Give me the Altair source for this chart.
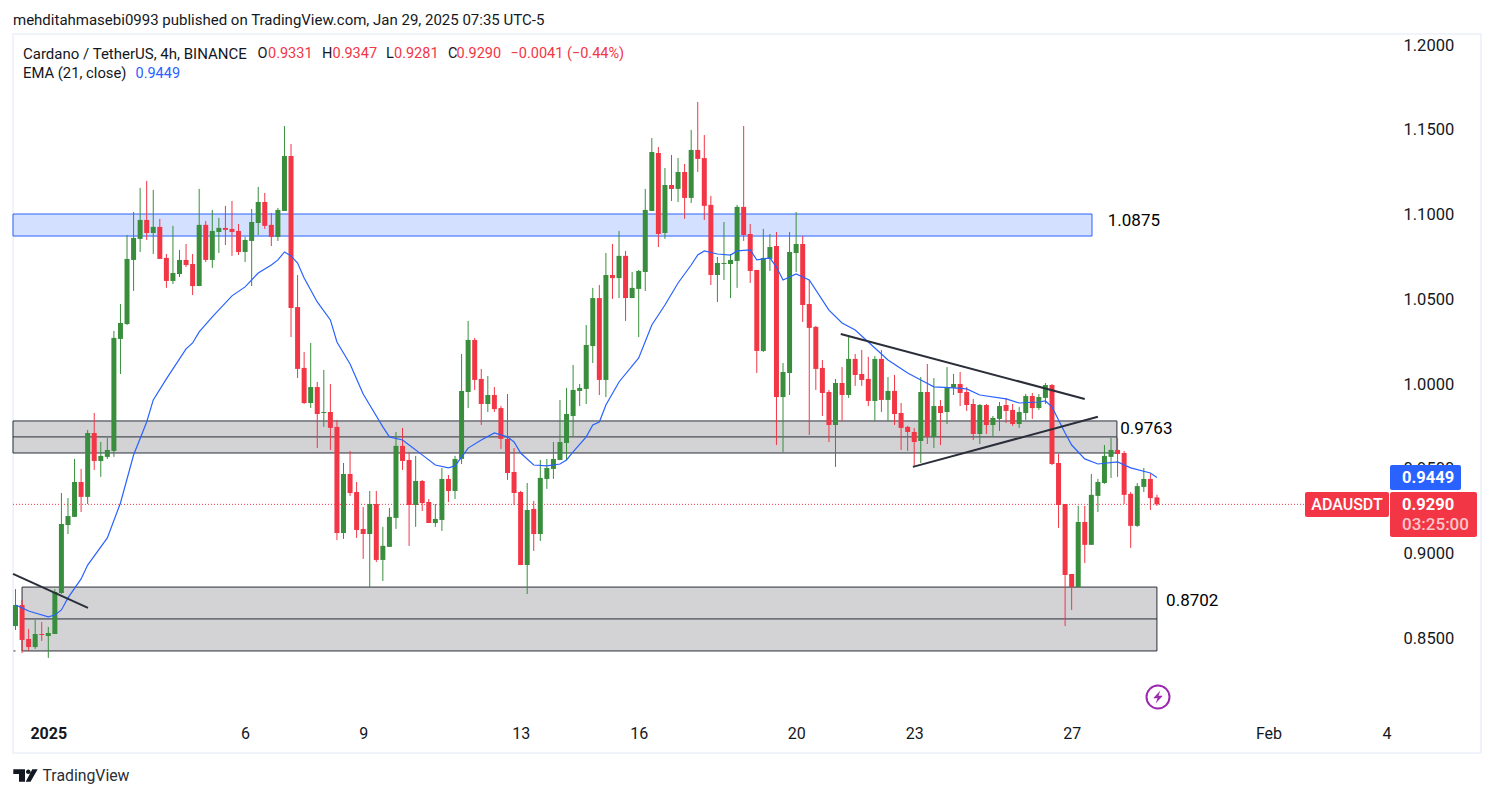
import altair as alt
import pandas as pd

open_ = [.8572,.8696,.8496,.8448,.8525,.8513,.8525,.8767,.9168,.9216,.9422,.9334,.9711,.9546,.9570,.9605,
1.0266,1.0354,1.0732,1.0856,1.0968,1.0891,1.0927,1.0744,1.0608,1.0649,1.0732,1.0708,1.0578,1.0939,1.0732,1.0897,
1.0921,1.0915,1.0903,1.0779,1.0844,1.0950,1.1074,1.0939,1.0868,1.1021,1.1345,1.0454,1.0095,.9888,.9982,.9829,
.9835,.9747,.9121,.9469,.9363,.9145,.9115,.9292,.8962,.9039,.9210,.9635,.9552,.9286,.9428,.9304,.9180,.9198,
.9440,.9369,.9558,.9953,1.0260,1.0030,.9882,.9935,.9858,.9676,.9481,.9363,.8932,.9263,.9115,.9440,.9499,.9552,
.9652,.9811,.9959,.9971,1.0224,1.0507,1.0024,1.0643,1.0625,1.0756,1.0507,1.0561,1.0661,1.1021,1.1363,1.0891,
1.1174,1.1151,1.1251,1.1098,1.1381,1.1333,1.1057,1.0643,1.0708,1.0708,1.0726,1.1045,1.0885,1.0673,1.0195,1.0738,
1.0814,.9923,1.0065,1.0773,1.0826,1.0472,1.0337,1.0095,.9953,.9758,1.0006,.9935,1.0148,1.0059,1.0030,.9900,
1.0148,.9906,.9959,.9829,.9747,.9717,.9664,.9953,.9688,.9870,.9835,.9977,1.0000,.9953,.9882,.9705,.9876,.9758,
.9794,.9876,.9847,.9764,.9829,.9929,.9858,.9918,.9994,.9534,.9292,.8879,.8802,.9186,.9051,.9340,.9416,.9570,
.9611,.9593,.9352,.9163,.9393,.9440,.9331]
high = [.8790,.8726,.8555,.8608,.8596,.8567,.8790,.9357,.9327,.9558,.9499,.9729,.9829,.9658,.9682,1.0313,
1.0472,1.0879,1.1015,1.1157,1.1198,1.1145,1.0974,1.0767,1.0933,1.0791,1.0826,1.0767,1.1151,1.0962,1.1027,1.0980,
1.1051,1.1080,1.0944,1.0868,1.1033,1.1163,1.1127,1.1009,1.1039,1.1522,1.1416,1.0643,1.0189,1.0242,1.0012,1.0083,
1.0000,.9788,.9534,.9605,.9422,.9275,.9369,.9369,.9157,.9269,.9717,.9741,.9599,.9576,.9434,.9322,.9292,.9505,
.9463,.9576,1.0177,1.0372,1.0272,1.0089,1.0047,.9982,.9870,.9941,.9622,.9369,.9416,.9310,.9552,.9558,.9658,.9906,
.9977,1.0112,1.0000,1.0348,1.0567,1.0584,1.0773,1.0826,1.0903,1.0785,1.0661,1.0673,1.1151,1.1451,1.1398,1.1274,
1.1351,1.1333,1.1298,1.1499,1.1664,1.1469,1.1110,1.0750,1.0956,1.0767,1.1057,1.1522,1.0944,1.0673,1.0915,1.0885,
1.0897,1.0124,1.0897,1.1015,1.0874,1.0614,1.0343,1.0142,.9965,1.0030,1.0100,1.0289,1.0177,1.0201,1.0160,1.0165,
1.0201,1.0041,1.0053,.9888,.9753,.9741,1.0041,1.0118,1.0035,.9906,1.0100,1.0059,1.0071,.9982,.9912,.9882,.9882,.9811,
.9894,.9918,.9882,.9864,.9941,.9947,.9941,1.0006,1.0000,.9587,.9292,.8879,.9281,.9281,.9469,.9440,.9640,.9682,
.9682,.9605,.9363,.9416,.9505,.9469,.9347]
low = [.8549,.8413,.8425,.8437,.8484,.8384,.8525,.8761,.9115,.9216,.9245,.9292,.9493,.9452,.9558,.9570,
1.0059,1.0348,1.0549,1.0779,1.0850,1.0767,1.0738,1.0567,1.0590,1.0631,1.0690,1.0525,1.0578,1.0720,1.0685,1.0773,
1.0820,1.0756,1.0761,1.0720,1.0578,1.0879,1.0915,1.0814,1.0844,1.1021,1.0277,1.0035,.9882,.9858,.9622,.9747,
.9611,.9080,.9086,.9340,.9092,.8968,.8802,.8950,.8838,.9039,.9145,.9493,.9045,.9157,.9251,.9180,.9157,.9133,
.9304,.9322,.9528,.9858,.9965,.9758,.9835,.9835,.9617,.9434,.9286,.8932,.8761,.9015,.9074,.9381,.9440,.9552,
.9552,.9693,.9870,.9882,1.0124,.9935,.9923,1.0502,1.0507,1.0372,1.0507,1.0277,1.0549,1.1021,1.0808,1.0856,
1.1080,1.1074,1.0974,1.1068,1.1251,1.0968,1.0584,1.0484,1.0614,1.0507,1.0567,1.0844,1.0596,1.0065,1.0189,1.0667,
.9640,.9599,.9935,1.0661,1.0366,.9699,.9965,.9811,.9658,.9511,.9782,.9918,.9989,.9989,.9870,.9782,
.9835,.9782,.9758,.9611,.9605,.9517,.9534,.9646,.9622,.9640,.9764,.9935,.9870,.9841,.9670,.9646,.9705,.9688,
.9723,.9770,.9753,.9741,.9788,.9794,.9847,.9882,.9522,.9151,.8572,.8667,.8802,.8944,.9051,.9245,.9411,.9446,
.9452,.9292,.9033,.9157,.9363,.9257,.9281]
close = [.8696,.8490,.8448,.8525,.8519,.8531,.8773,.9174,.9221,.9422,.9334,.9711,.9546,.9576,.9611,1.0272,
1.0360,1.0738,1.0862,1.0968,1.0891,1.0927,1.0738,1.0608,1.0655,1.0732,1.0702,1.0578,1.0939,1.0732,1.0903,1.0921,
1.0909,1.0897,1.0779,1.0850,1.0956,1.1074,1.0933,1.0868,1.1027,1.1345,1.0449,1.0089,.9888,.9982,.9823,.9835,
.9741,.9121,.9469,.9357,.9139,.9115,.9292,.8962,.9045,.9216,.9635,.9546,.9286,.9428,.9298,.9180,.9204,.9440,
.9369,.9558,.9959,1.0260,1.0024,.9882,.9935,.9852,.9676,.9475,.9357,.8932,.9257,.9115,.9446,.9505,.9558,.9658,
.9823,.9965,.9977,1.0230,1.0507,1.0024,1.0643,1.0625,1.0756,1.0507,1.0567,1.0667,1.1027,1.1369,1.0885,1.1174,
1.1151,1.1251,1.1098,1.1381,1.1328,1.1051,1.0643,1.0714,1.0714,1.0732,1.1045,1.0879,1.0667,1.0195,1.0744,1.0808,
.9923,1.0071,1.0779,1.0826,1.0466,1.0331,1.0089,.9947,.9758,1.0006,.9935,1.0148,1.0053,1.0024,.9900,1.0148,
.9906,.9959,.9823,.9741,.9717,.9658,.9953,.9688,.9870,.9829,.9982,1.0000,.9947,.9876,.9705,.9876,.9758,.9800,
.9870,.9841,.9764,.9835,.9929,.9858,.9923,.9994,.9528,.9286,.8873,.8802,.9186,.9051,.9346,.9422,.9576,.9611,
.9587,.9346,.9163,.9398,.9440,.9327,.9290]

ema_i = [0,1,2,3,5,6,7,8,10,11,14,16,18,20,21,23,26,27,28,30,33,35,37,39,40,41,42,43,44,46,48,49,51,53,54,56,57,59,
60,62,64,66,67,69,71,73,75,76,77,79,81,83,84,85,87,88,89,90,92,95,97,99,101,103,104,105,107,109,110,112,113,115,
116,117,119,121,124,126,128,130,133,136,138,140,143,145,147,151,153,156,157,158,159,160,161,163,165,168,170,173,174]
ema_v = [.8696,.8679,.8661,.8649,.8626,.8637,.8667,.8738,.8850,.8932,.9092,.9298,.9581,.9776,.9906,1.0030,1.0207,
1.0242,1.0307,1.0396,1.0520,1.0573,1.0655,1.0702,1.0732,1.0779,1.0756,1.0714,1.0625,1.0484,1.0378,1.0248,1.0118,
.9941,.9876,.9747,.9688,.9670,.9640,.9582,.9522,.9505,.9517,.9622,.9670,.9711,.9688,.9658,.9593,.9522,.9517,.9528,
.9552,.9599,.9688,.9758,.9776,.9876,1.0012,1.0154,1.0348,1.0466,1.0596,1.0702,1.0761,1.0785,1.0767,1.0761,1.0785,
1.0791,1.0732,1.0744,1.0690,1.0614,1.0649,1.0614,1.0436,1.0360,1.0319,1.0248,1.0142,1.0065,1.0024,.9983,.9977,
.9971,.9935,.9912,.9888,.9894,.9900,.9865,.9788,.9711,.9640,.9558,.9528,.9540,.9505,.9475,.9449]

price_ticks = [0.85, 0.90, 0.95, 1.00, 1.05, 1.10, 1.15, 1.20]
date_ticks = [5, 35, 53, 77, 95, 119, 137, 161, 191, 209]
date_labels = ["2025", "6", "9", "13", "16", "20", "23", "27", "Feb", "4"]

blue_zone = [{"a": -0.38, "b": 164.1, "top": 1.1003, "bot": 1.0873}]
gray_zones = [{"a": -0.38, "b": 167.9, "top": .9782, "mid": .9688, "bot": .9593},
              {"a": 1.0, "b": 174.0, "top": .8802, "mid": .8614, "bot": .8425}]
stub = [{"a": -0.3, "b": 0.0, "p": .8425}]
trend_lines = [
    {"n": "a", "i": -0.38, "p": .8880}, {"n": "a", "i": 11.05, "p": .8679},
    {"n": "b", "i": 125.8, "p": 1.0295}, {"n": "b", "i": 163.0, "p": .9912},
    {"n": "c", "i": 136.8, "p": .9511}, {"n": "c", "i": 165.0, "p": .9807},
]
level_labels = [{"i": 166.5, "p": 1.0962, "t": "1.0875"},
                {"i": 168.4, "p": .9735, "t": "0.9763"},
                {"i": 175.4, "p": .8720, "t": "0.8702"}]

RED, GREEN, BLUE, DARK = "#f23645", "#388e3c", "#2962ff", "#131722"
FONT = "Roboto"
X0, Y0 = 13, 34

candles = pd.DataFrame({"i": range(len(close)), "o": open_, "h": high, "l": low, "c": close})
candles["dir"] = ["up" if c >= o else "down" for o, c in zip(open_, close)]
ema = pd.DataFrame({"i": ema_i, "v": ema_v})

xs = alt.Scale(domain=[-0.381, 223.4], nice=False, zero=False, padding=0)
ys = alt.Scale(domain=[.7823, 1.2065], nice=False, zero=False, padding=0)
colr = alt.Color("dir:N", scale=alt.Scale(domain=["up", "down"], range=[GREEN, RED]), legend=None)

label_expr = "{" + ",".join(f"'{v}':'{t}'" for v, t in zip(date_ticks, date_labels)) + "}[datum.value]"

x_axis = alt.Axis(
    values=date_ticks, labelExpr=label_expr, orient="bottom", offset=-30, domain=False, ticks=False,
    grid=False, labelPadding=2, labelFont=FONT, labelFontSize=16, labelColor=DARK, labelBaseline="top",
    labelFontWeight=alt.ExprRef("datum.value == 5 ? 700 : 400"), labelFlush=False, labelOverlap=False)
y_axis = alt.Axis(
    values=price_ticks, format=".4f", orient="right", offset=-91, domain=False, ticks=False, grid=False,
    labelPadding=13, labelFont=FONT, labelFontSize=16.5, labelColor=DARK, labelAlign="left", labelOverlap=False)

def qx(f="i"):
    return alt.X(f"{f}:Q", scale=xs, axis=x_axis, title=None)

def qy(f):
    return alt.Y(f"{f}:Q", scale=ys, axis=y_axis, title=None)

def text(t, x, y, size=15, color=DARK, weight=400, align="left", font=FONT):
    return alt.Chart(pd.DataFrame({"t": [t]})).mark_text(
        font=font, fontSize=size, color=color, fontWeight=weight, align=align, baseline="middle"
    ).encode(text="t:N", x=alt.value(x - X0), y=alt.value(y - Y0))

def tag(x1, x2, y1, y2, color):
    return alt.Chart(pd.DataFrame({"t": [0]})).mark_rect(color=color, cornerRadius=2).encode(
        x=alt.value(x1 - X0), x2=alt.value(x2 - X0), y=alt.value(y1 - Y0), y2=alt.value(y2 - Y0))

def icon(shape, x, y, size, color, filled=True, sw=0):
    return alt.Chart(pd.DataFrame({"t": [0]})).mark_point(
        shape=shape, filled=filled, color=color, size=size, opacity=1, strokeWidth=sw
    ).encode(x=alt.value(x - X0), y=alt.value(y - Y0))

blue = alt.Chart(pd.DataFrame(blue_zone)).mark_rect(fill="#d4e0ff", stroke=BLUE, strokeWidth=1).encode(
    x=qx("a"), x2="b:Q", y=qy("top"), y2="bot:Q")
gray = alt.Chart(pd.DataFrame(gray_zones)).mark_rect(fill="#d3d3d6", stroke="#2a2e39", strokeWidth=1).encode(
    x=qx("a"), x2="b:Q", y=qy("top"), y2="bot:Q")
mid = alt.Chart(pd.DataFrame(gray_zones)).mark_rule(color="#2a2e39", strokeWidth=1).encode(
    x=qx("a"), x2="b:Q", y=qy("mid"))
stub_mark = alt.Chart(pd.DataFrame(stub)).mark_rule(color="#2a2e39", strokeWidth=1).encode(
    x=qx("a"), x2="b:Q", y=qy("p"))
price_line = alt.Chart(pd.DataFrame({"p": [close[-1]]})).mark_rule(color=RED, strokeWidth=1, strokeDash=[1, 2]).encode(
    y=qy("p"), x=alt.value(0), x2=alt.value(1305 - X0))
wick = alt.Chart(candles).mark_rule(strokeWidth=1).encode(x=qx(), y=qy("h"), y2="l:Q", color=colr)
body = alt.Chart(candles).mark_bar(size=5).encode(x=qx(), y=qy("o"), y2="c:Q", color=colr)
ema_line = alt.Chart(ema).mark_line(color=BLUE, strokeWidth=1.2).encode(x=qx(), y=qy("v"))
trend = alt.Chart(pd.DataFrame(trend_lines)).mark_line(color="#2a2e39", strokeWidth=2).encode(
    x=qx(), y=qy("p"), detail="n:N")
levels = alt.Chart(pd.DataFrame(level_labels)).mark_text(
    font=FONT, fontSize=17, color="#000000", align="left", baseline="middle").encode(x=qx(), y=qy("p"), text="t:N")

BOLT = "M 0.3 -0.8 L -0.6 0.15 L -0.05 0.15 L -0.3 0.8 L 0.6 -0.15 L 0.05 -0.15 Z"
LOGO = ("M -0.964 -0.496 L -0.028 -0.496 L -0.028 0.496 L -0.508 0.496 L -0.508 -0.12 L -0.964 -0.12 Z "
        "M 0.556 -0.496 L 0.988 -0.496 L 0.412 0.496 L 0.028 0.496 Z "
        "M 0.052 -0.304 A 0.184 0.184 0 1 0 0.42 -0.304 A 0.184 0.184 0 1 0 0.052 -0.304 Z")

texts = [
    text("mehditahmasebi0993 published on TradingView.com, Jan 29, 2025 07:35 UTC-5", 13, 20, 15),
    text("Cardano / TetherUS, 4h, BINANCE", 23, 54, 15),
    text("O", 257.6, 54, 14.5), text("0.9331", 268, 54, 14.5, RED),
    text("H", 322, 54, 14.5), text("0.9347", 332.5, 54, 14.5, RED),
    text("L", 386, 54, 14.5), text("0.9281", 394, 54, 14.5, RED),
    text("C", 448, 54, 14.5), text("0.9290", 456.6, 54, 14.5, RED),
    text("\u22120.0041 (\u22120.44%)", 510.5, 54, 14.5, RED),
    text("EMA (21, close)", 23, 74, 14.8), text("0.9449", 135.5, 74, 14.5, BLUE),
    text("TradingView", 42.5, 776, 15.8, "#2a2e39"),
    text("ADAUSDT", 1347, 505, 16, "#ffffff", 500, "center"),
    text("0.9449", 1402, 478, 16.5, "#ffffff", 700),
    text("0.9290", 1402, 505, 16.5, "#ffffff", 700),
    text("03:25:00", 1402, 525, 17, "#fbc4c8", 500),
]

chart = alt.layer(
    blue, gray, mid, stub_mark, price_line, wick, body, ema_line, trend, levels,
    icon("circle", 1158, 697, 529, "#9c27b0", False, 2),
    icon(BOLT, 1158, 697, 256, "#9c27b0"),
    icon(LOGO, 25.35, 775.5, 625, DARK),
    tag(1390, 1461, 465, 490, BLUE), tag(1305, 1389, 492, 517, RED), tag(1390, 1477, 492, 537, RED),
    *texts,
).properties(
    width=1468, height=719,
    padding={"left": 5, "top": 26, "right": 5, "bottom": 36},
    autosize=alt.AutoSizeParams(type="none"),
    background="#ffffff",
).configure_view(stroke="#f0f3fa", strokeWidth=2)

chart.save("out.html", embed_options={"renderer": "svg", "actions": False})
